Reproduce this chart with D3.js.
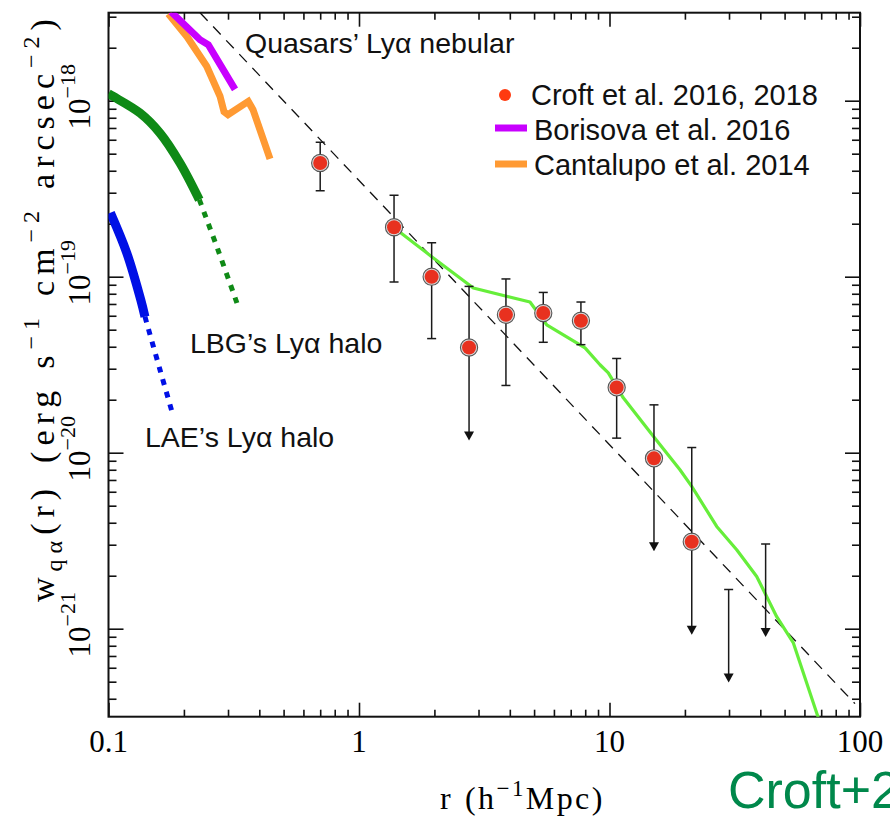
<!DOCTYPE html>
<html><head><meta charset="utf-8">
<script src="https://cdn.jsdelivr.net/npm/d3@7"></script>
<style>
html,body{margin:0;padding:0;background:#fff;overflow:hidden}
svg{display:block}
</style></head><body>
<svg id="chart" width="890" height="820"></svg>
<script>
// Croft et al. 2016, 2018: quasar–Lyα emission cross-correlation
// r in h^-1 Mpc, w in erg s^-1 cm^-2 arcsec^-2 (null lower bound = upper limit)
const croftR  = [0.70, 1.38, 1.95, 2.75, 3.86, 5.44, 7.69, 10.68, 15.05, 21.3, 29.9, 42.0];
const croftW  = [4.43e-19, 1.91e-19, 1.00e-19, 3.96e-20, 6.08e-20, 6.22e-20, 5.62e-20, 2.35e-20, 9.29e-21, 3.12e-21, null, null];
const croftHi = [5.80e-19, 2.90e-19, 1.56e-19, 8.81e-20, 9.71e-20, 8.14e-20, 7.18e-20, 3.43e-20, 1.87e-20, 1.07e-20, 1.67e-21, 3.03e-21];
const croftLo = [3.08e-19, 9.33e-20, 4.45e-20, null, 2.41e-20, 4.24e-20, 4.11e-20, 1.21e-20, null, null, null, null];

// model curve (light green)
const modelR = [1.436, 1.951, 2.860, 4.815, 5.615, 7.984, 9.165, 9.89, 11.35, 14.96, 19.11, 21.29, 26.79, 32.19, 38.69, 46.5, 54.2, 68.2];
const modelW = [1.82e-19, 1.30e-19, 8.63e-20, 7.18e-20, 5.33e-20, 3.94e-20, 3.16e-20, 2.84e-20, 2.05e-20, 1.24e-20, 8.0e-21, 6.44e-21, 3.81e-21, 2.81e-21, 1.98e-21, 1.17e-21, 8.3e-22, 3.11e-22];

// power-law reference (dashed)
const plawR = [0.232, 95.5];
const plawW = [3.16e-18, 3.75e-22];

// Borisova et al. 2016 quasar nebulae
const borR = [0.1777, 0.2319, 0.2503, 0.3199];
const borW = [3.2e-18, 2.22e-18, 2.08e-18, 1.16e-18];

// Cantalupo et al. 2014
const canR = [0.1733, 0.2058, 0.2466, 0.2787, 0.2891, 0.2999, 0.3614, 0.3775, 0.4413];
const canW = [3.12e-18, 2.31e-18, 1.57e-18, 1.06e-18, 8.66e-19, 8.33e-19, 9.91e-19, 8.89e-19, 4.67e-19];

// LBG Lyα halo: measured (solid) and extrapolated (dotted)
const lbgR = [0.1, 0.1045, 0.1336, 0.1605, 0.1929, 0.2304];
const lbgW = [1.096e-18, 1.057e-18, 8.51e-19, 6.55e-19, 4.43e-19, 2.74e-19];
const lbgExtR = [0.2304, 0.2736, 0.3328];
const lbgExtW = [2.74e-19, 1.42e-19, 6.49e-20];

// LAE Lyα halo: measured (solid) and extrapolated (dotted)
const laeR = [0.1018, 0.1182, 0.1345, 0.1398];
const laeW = [2.31e-19, 1.37e-19, 7.40e-20, 5.93e-20];
const laeExtR = [0.1398, 0.1605, 0.1788];
const laeExtW = [5.93e-20, 2.96e-20, 1.73e-20];

// axis ticks
const xTickVals = [0.1, 1, 10, 100];
const xTickLabels = ["0.1", "1", "10", "100"];
const yTickExps = [-21, -20, -19, -18];

// legend entries
const legendLabels = ["Croft et al. 2016, 2018", "Borisova et al. 2016", "Cantalupo et al. 2014"];

const svg = d3.select("#chart");
const L = 108.5, R = 860, T = 12.7, B = 716.7;
const x = d3.scaleLog().domain([0.1, 100]).range([L, R]);
const y = d3.scaleLog().domain([Math.pow(10, -21.5), Math.pow(10, -17.5)]).range([B, T]);

svg.append("defs").append("clipPath").attr("id", "plotclip")
  .append("rect").attr("x", L).attr("y", T).attr("width", R - L).attr("height", B - T);

const serif = "'Liberation Serif', 'Times New Roman', serif";
const sans = "'Liberation Sans', Arial, Helvetica, sans-serif";

// ---- ticks (inward on all four sides) ----
const xMinor = [];
for (let e = -1; e <= 1; e++) for (let k = 2; k <= 9; k++) xMinor.push(k * Math.pow(10, e));
const yMinor = [];
for (let e = -22; e <= -18; e++) for (let k = 2; k <= 9; k++) {
  const v = k * Math.pow(10, e);
  if (v > y.domain()[0] && v < y.domain()[1]) yMinor.push(v);
}
const yMajor = yTickExps.map(e => Math.pow(10, e));

function tickAxis(gen, vals, size, tx, ty) {
  const g = svg.append("g").attr("transform", `translate(${tx},${ty})`)
    .call(gen.tickValues(vals).tickSize(size).tickFormat(""));
  g.select(".domain").remove();
  g.selectAll("line").attr("stroke", "#111").attr("stroke-width", 1.6);
}
tickAxis(d3.axisBottom(x), xTickVals, -14, 0, B);
tickAxis(d3.axisBottom(x), xMinor, -7, 0, B);
tickAxis(d3.axisTop(x), xTickVals, -14, 0, T);
tickAxis(d3.axisTop(x), xMinor, -7, 0, T);
tickAxis(d3.axisLeft(y), yMajor, -15, L, 0);
tickAxis(d3.axisLeft(y), yMinor, -8, L, 0);
tickAxis(d3.axisRight(y), yMajor, -15, R, 0);
tickAxis(d3.axisRight(y), yMinor, -8, R, 0);

// frame
svg.append("rect").attr("x", L).attr("y", T).attr("width", R - L).attr("height", B - T)
  .attr("fill", "none").attr("stroke", "#111").attr("stroke-width", 2);

// x tick labels
svg.append("g").selectAll("text").data(xTickVals).join("text")
  .attr("x", d => x(d)).attr("y", 752)
  .attr("text-anchor", "middle").attr("font-family", serif).attr("font-size", 31)
  .text((d, i) => xTickLabels[i]);

// y tick labels: rotated 10^n
const yl = svg.append("g").selectAll("g").data(yTickExps).join("g")
  .attr("transform", e => `translate(90,${y(Math.pow(10, e)) - 4}) rotate(-90)`);
const ylt = yl.append("text").attr("text-anchor", "middle")
  .attr("font-family", serif).attr("font-size", 31);
ylt.append("tspan").text("10");
ylt.append("tspan").attr("dy", -15).attr("font-size", 22).text(e => "\u2212" + (-e));

// axis titles
const xt = svg.append("text").attr("x", 440).attr("y", 809)
  .attr("font-family", serif).attr("font-size", 32).attr("letter-spacing", 2.4);
xt.append("tspan").text("r");
xt.append("tspan").attr("dx", 12).text("(h");
xt.append("tspan").attr("dy", -13).attr("font-size", 23).text("\u22121");
xt.append("tspan").attr("dy", 13).text("Mpc)");

const yt = svg.append("text").attr("transform", "translate(54,602) rotate(-90)")
  .attr("font-family", serif).attr("font-size", 34).attr("letter-spacing", 6);
yt.append("tspan").text("w");
yt.append("tspan").attr("dy", 8).attr("font-size", 24).text("q\u03b1");
yt.append("tspan").attr("dy", -8).text("(r)");
yt.append("tspan").attr("dx", 20).text("(erg");
yt.append("tspan").attr("dx", 16).text("s");
yt.append("tspan").attr("dy", -15).attr("font-size", 24).text("\u22121");
yt.append("tspan").attr("dy", 15).attr("dx", 16).text("cm");
yt.append("tspan").attr("dy", -15).attr("font-size", 24).text("\u22122");
yt.append("tspan").attr("dy", 15).attr("dx", 16).text("arcsec");
yt.append("tspan").attr("dy", -15).attr("font-size", 24).text("\u22122");
yt.append("tspan").attr("dy", 15).text(")");

// ---- data layer ----
const plot = svg.append("g").attr("clip-path", "url(#plotclip)");
const line = (rs, ws, curve) => d3.line().x(d => x(d[0])).y(d => y(d[1])).curve(curve || d3.curveLinear)(rs.map((r, i) => [r, ws[i]]));

// power-law dashed line
plot.append("path").attr("d", line(plawR, plawW)).attr("fill", "none")
  .attr("stroke", "#111").attr("stroke-width", 1.3).attr("stroke-dasharray", "11,8");

// small-scale halo curves
plot.append("path").attr("d", line(lbgR, lbgW, d3.curveCatmullRom)).attr("fill", "none")
  .attr("stroke", "#0f8a16").attr("stroke-width", 9);
plot.append("path").attr("d", line(lbgExtR, lbgExtW, d3.curveCatmullRom)).attr("fill", "none")
  .attr("stroke", "#0f8a16").attr("stroke-width", 5).attr("stroke-dasharray", "6,7");
plot.append("path").attr("d", line(laeR, laeW, d3.curveCatmullRom)).attr("fill", "none")
  .attr("stroke", "#0010e6").attr("stroke-width", 9);
plot.append("path").attr("d", line(laeExtR, laeExtW, d3.curveCatmullRom)).attr("fill", "none")
  .attr("stroke", "#0010e6").attr("stroke-width", 5).attr("stroke-dasharray", "6,7");

// quasar nebulae
plot.append("path").attr("d", line(canR, canW)).attr("fill", "none")
  .attr("stroke", "#ff9a33").attr("stroke-width", 7).attr("stroke-linejoin", "miter");
plot.append("path").attr("d", line(borR, borW)).attr("fill", "none")
  .attr("stroke", "#c800ff").attr("stroke-width", 7).attr("stroke-linejoin", "miter");

// model curve
plot.append("path").attr("d", line(modelR, modelW)).attr("fill", "none")
  .attr("stroke", "#66ee3a").attr("stroke-width", 3.2).attr("stroke-linejoin", "round");

// error bars and upper-limit arrows
const arrowLen = 93, cap = 4.5;
const pts = croftR.map((r, i) => ({ r, w: croftW[i], hi: croftHi[i], lo: croftLo[i] }));
const eb = plot.append("g").attr("stroke", "#1a1a1a").attr("stroke-width", 1.5);
pts.forEach(p => {
  const px = x(p.r);
  const yTop = y(p.hi);
  let yBot;
  if (p.lo !== null) yBot = y(p.lo);
  else yBot = y(p.w !== null ? p.w : p.hi) + arrowLen;
  eb.append("line").attr("x1", px).attr("x2", px).attr("y1", yTop).attr("y2", p.lo !== null ? yBot : yBot - 6);
  eb.append("line").attr("x1", px - cap).attr("x2", px + cap).attr("y1", yTop).attr("y2", yTop);
  if (p.lo !== null) {
    eb.append("line").attr("x1", px - cap).attr("x2", px + cap).attr("y1", yBot).attr("y2", yBot);
  } else {
    eb.append("path").attr("d", `M${px - 5},${yBot - 9}L${px + 5},${yBot - 9}L${px},${yBot}Z`)
      .attr("fill", "#111").attr("stroke", "none");
  }
});

// data points
const dp = plot.append("g").selectAll("g").data(pts.filter(p => p.w !== null)).join("g")
  .attr("transform", p => `translate(${x(p.r)},${y(p.w)})`);
dp.append("circle").attr("r", 8.6).attr("fill", "#d9d9d9").attr("stroke", "#555").attr("stroke-width", 1.1);
dp.append("circle").attr("r", 7).attr("fill", "#e8311f");

// ---- annotations ----
const ann = [
  { t: "Quasars\u2019 Ly\u03b1 nebular", x: 245, y: 53 },
  { t: "LBG\u2019s Ly\u03b1 halo", x: 190, y: 353 },
  { t: "LAE\u2019s Ly\u03b1 halo", x: 145, y: 447 }
];
svg.append("g").selectAll("text").data(ann).join("text")
  .attr("x", d => d.x).attr("y", d => d.y)
  .attr("font-family", sans).attr("font-size", 28.5).attr("fill", "#111")
  .text(d => d.t);

// ---- legend ----
const lg = svg.append("g");
const rowY = [105, 140, 175];
lg.append("circle").attr("cx", 505).attr("cy", rowY[0] - 10).attr("r", 6).attr("fill", "#ff3a10");
lg.append("line").attr("x1", 495).attr("x2", 527).attr("y1", rowY[1] - 12).attr("y2", rowY[1] - 12)
  .attr("stroke", "#c800ff").attr("stroke-width", 7);
lg.append("line").attr("x1", 495).attr("x2", 527).attr("y1", rowY[2] - 11).attr("y2", rowY[2] - 11)
  .attr("stroke", "#ff9a33").attr("stroke-width", 7);
lg.selectAll("text").data(legendLabels).join("text")
  .attr("x", (d, i) => i === 0 ? 531 : 534).attr("y", (d, i) => rowY[i])
  .attr("font-family", sans).attr("font-size", 29).attr("fill", "#111")
  .text(d => d);

// credit
svg.append("text").attr("x", 728).attr("y", 808)
  .attr("font-family", sans).attr("font-size", 52).attr("fill", "#00884b")
  .text("Croft+2018");
</script>
</body></html>
